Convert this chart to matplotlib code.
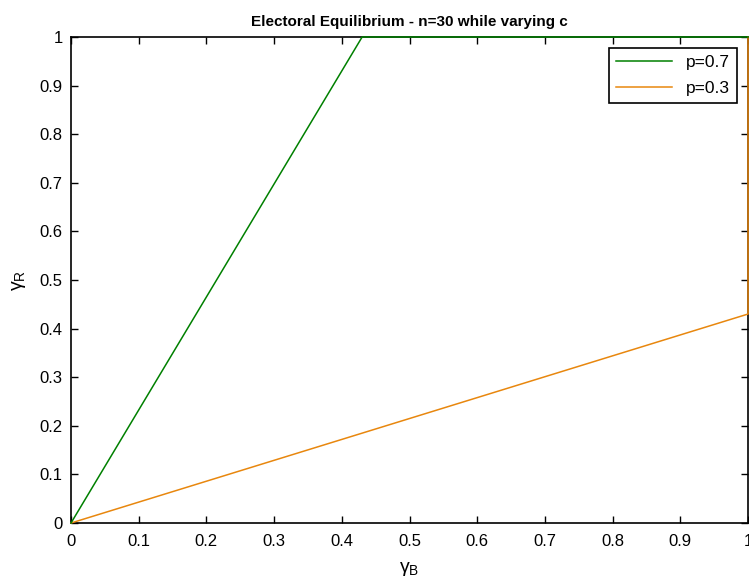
import matplotlib.pyplot as plt

plt.rcParams['font.family'] = ['Liberation Sans', 'DejaVu Sans']
plt.rcParams['mathtext.fontset'] = 'custom'
plt.rcParams['mathtext.rm'] = 'Liberation Sans'
plt.rcParams['mathtext.it'] = 'Liberation Sans:italic'

# equilibrium curves (gamma_B, gamma_R)
gb_high = [0, 0.43, 1]
gr_high = [0, 1, 1]
gb_low = [0, 1, 1]
gr_low = [0, 0.43, 1]

ticks = [0, 0.1, 0.2, 0.3, 0.4, 0.5, 0.6, 0.7, 0.8, 0.9, 1]
tick_labels = ['0', '0.1', '0.2', '0.3', '0.4', '0.5', '0.6', '0.7', '0.8', '0.9', '1']

fig = plt.figure(figsize=(7.49, 5.79), dpi=100)
ax = fig.add_axes([0.0948, 0.0967, 0.9039, 0.8394])

ax.plot(gb_low, gr_low, color='#E8870E', lw=1.1, label='p=0.3', clip_on=False, zorder=3)
ax.plot(gb_high, gr_high, color='#008000', lw=1.1, label='p=0.7', clip_on=False, zorder=4)

ax.set_xlim(0, 1)
ax.set_ylim(0, 1)
ax.set_xticks(ticks)
ax.set_xticklabels(tick_labels)
ax.set_yticks(ticks)
ax.set_yticklabels(tick_labels)
ax.tick_params(direction='in', top=True, right=True, labelsize=12, length=5, width=1)
ax.tick_params(axis='x', pad=8)
ax.tick_params(axis='y', pad=6)
for s in ax.spines.values():
    s.set_linewidth(1.2)
    s.set_zorder(2)

ax.set_title('Electoral Equilibrium - n=30 while varying c', fontsize=11, fontweight='bold', pad=8)
ax.set_xlabel('γ$_\\mathrm{B}$', fontsize=14, labelpad=8)
ax.set_ylabel('γ$_\\mathrm{R}$', fontsize=14, labelpad=8)

handles, labels = ax.get_legend_handles_labels()
leg = ax.legend(handles[::-1], labels[::-1], loc='upper right', fontsize=12.5,
                fancybox=False, edgecolor='black', framealpha=1,
                handlelength=3.2, labelspacing=0.6, borderaxespad=0.65,
                bbox_to_anchor=(1.0, 1.0))
leg.get_frame().set_linewidth(1.2)
leg.set_zorder(5)

fig.savefig('out.png', dpi=100)
